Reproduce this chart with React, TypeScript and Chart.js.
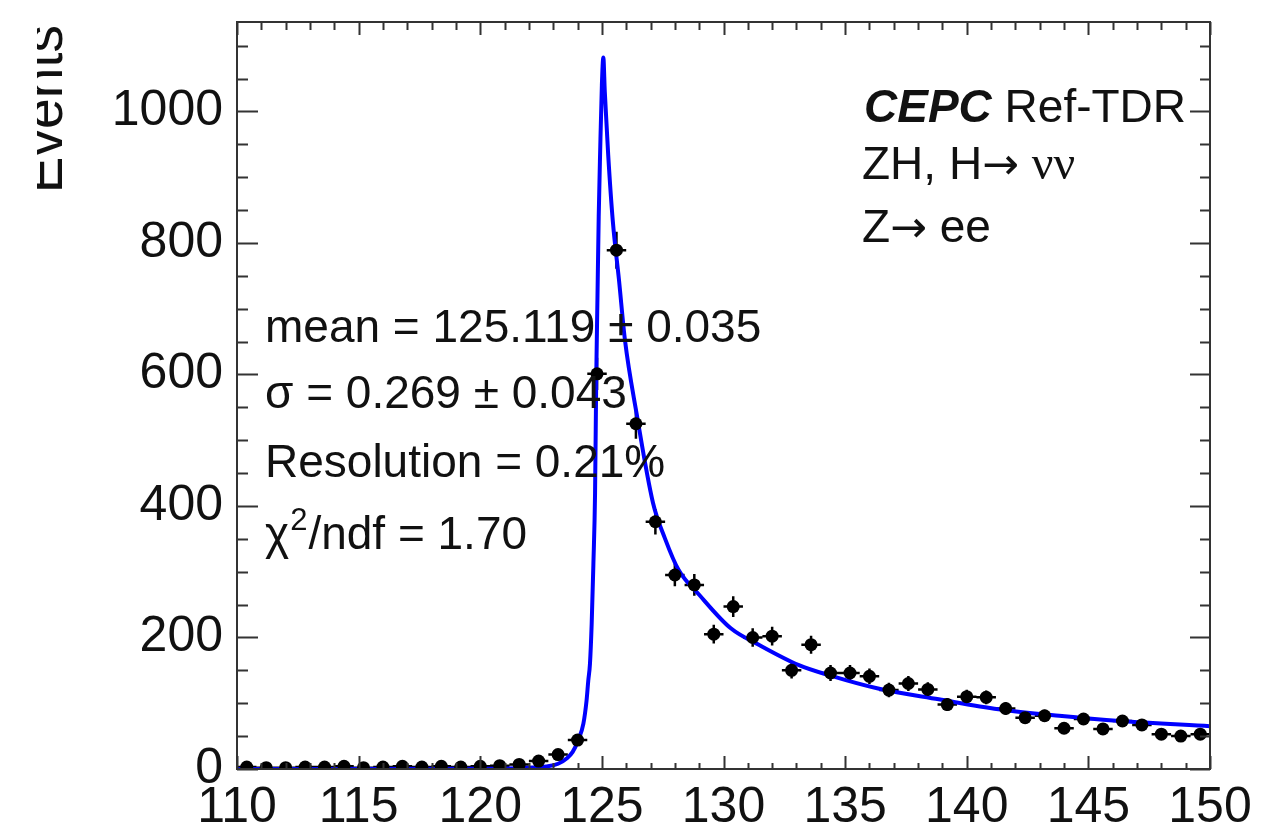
import React, { useEffect, useRef } from "react";
import { Chart, registerables } from "chart.js";

Chart.register(...registerables);

// ---- data ----
const binCenters = [
  110.4, 111.2, 112.0, 112.8, 113.6, 114.4, 115.2, 116.0, 116.8, 117.6,
  118.4, 119.2, 120.0, 120.8, 121.6, 122.4, 123.2, 124.0, 124.8, 125.6,
  126.4, 127.2, 128.0, 128.8, 129.6, 130.4, 131.2, 132.0, 132.8, 133.6,
  134.4, 135.2, 136.0, 136.8, 137.6, 138.4, 139.2, 140.0, 140.8, 141.6,
  142.4, 143.2, 144.0, 144.8, 145.6, 146.4, 147.2, 148.0, 148.8, 149.6,
];
const counts = [
  3, 2, 2, 3, 3, 4, 2, 3, 4, 3,
  4, 3, 4, 5, 7, 12, 22, 44, 601, 789,
  525, 376, 295, 280, 205, 247, 200, 202, 150, 189,
  146, 146, 141, 120, 130, 121, 98, 110, 109, 92,
  78, 81, 62, 76, 61, 73, 67, 53, 50, 53,
];
const countErrors = [
  1.7, 1.4, 1.4, 1.7, 1.7, 2.0, 1.4, 1.7, 2.0, 1.7,
  2.0, 1.7, 2.0, 2.2, 2.6, 3.5, 4.7, 6.6, 24.5, 28.1,
  22.9, 19.4, 17.2, 16.7, 14.3, 15.7, 14.1, 14.2, 12.2, 13.7,
  12.1, 12.1, 11.9, 11.0, 11.4, 11.0, 9.9, 10.5, 10.4, 9.6,
  8.8, 9.0, 7.9, 8.7, 7.8, 8.5, 8.2, 7.3, 7.1, 7.3,
];
const binHalfWidth = 0.4;

const fitX = [
  110, 120, 122, 122.73, 123.2, 123.55, 123.8, 124.03, 124.24, 124.37,
  124.44, 124.51, 124.58, 124.65, 124.72, 124.77, 124.82, 124.87, 124.93, 125.0,
  125.06, 125.12, 125.2, 125.26, 125.45, 125.7, 125.95, 126.43, 127.1, 127.6,
  128.15, 129.0, 130.3, 131.45, 133.1, 134.4, 136.4, 138.85, 141.3, 143.8,
  146.3, 150,
];
const fitY = [
  0, 0.5, 2, 4, 8, 16, 26, 44, 69, 104,
  134, 160, 220, 310, 420, 600, 720, 840, 940, 1040,
  1082, 1030, 975, 934, 833, 745, 652, 540, 405, 350,
  303, 265, 214, 189, 158, 142, 122, 106, 91, 81,
  73, 65,
];

const xTickValues = [110, 115, 120, 125, 130, 135, 140, 145, 150];
const yTickValues = [0, 200, 400, 600, 800, 1000];
const xRange = [110, 150];
const yRange = [0, 1136];
const xMinorStep = 1;
const yMinorStep = 50;

const yTitle = "Events";
const headerBold = "CEPC";
const headerRest = " Ref-TDR";
const statsLines = [
  "mean = 125.119 \u00B1 0.035",
  "\u03C3 = 0.269 \u00B1 0.043",
  "Resolution = 0.21%",
];
const chiLine = { sym: "\u03C7", sup: "2", rest: "/ndf = 1.70" };

const FONT = "'Liberation Sans', Arial, Helvetica, sans-serif";
const ARROW_FONT = "'DejaVu Sans', sans-serif";
const GREEK_FONT = "'Liberation Serif', serif";
const TEXT = "#111";
const AXIS = "#333";

function drawSegments(ctx: any, segs: [string, string][], x0: number, y0: number) {
  let x = x0;
  for (const [font, txt] of segs) {
    ctx.font = font;
    ctx.fillText(txt, x, y0);
    x += ctx.measureText(txt).width;
  }
}

const decorPlugin = {
  id: "decor",
  beforeDatasetsDraw(chart: any) {
    const { ctx, scales } = chart;
    const x = scales.x;
    const y = scales.y;
    ctx.save();
    ctx.strokeStyle = "#000";
    ctx.lineWidth = 2.5;
    ctx.beginPath();
    for (let i = 0; i < binCenters.length; i++) {
      const px = x.getPixelForValue(binCenters[i]);
      const py = y.getPixelForValue(counts[i]);
      ctx.moveTo(x.getPixelForValue(binCenters[i] - binHalfWidth), py);
      ctx.lineTo(x.getPixelForValue(binCenters[i] + binHalfWidth), py);
      ctx.moveTo(px, y.getPixelForValue(counts[i] - countErrors[i]));
      ctx.lineTo(px, y.getPixelForValue(counts[i] + countErrors[i]));
    }
    ctx.stroke();
    ctx.restore();
  },
  afterDraw(chart: any) {
    const { ctx, chartArea, scales } = chart;
    const x = scales.x;
    const y = scales.y;
    const { left, right, top, bottom } = chartArea;
    ctx.save();
    // frame
    ctx.strokeStyle = AXIS;
    ctx.lineWidth = 2;
    ctx.strokeRect(left, top, right - left, bottom - top);
    // ticks
    ctx.beginPath();
    for (let v = xRange[0]; v <= xRange[1] + 1e-9; v += xMinorStep) {
      const px = Math.round(x.getPixelForValue(v)) + 0.5;
      const major = xTickValues.includes(v);
      ctx.moveTo(px, bottom);
      ctx.lineTo(px, bottom - (major ? 13 : 6));
      ctx.moveTo(px, top);
      ctx.lineTo(px, top + (major ? 13 : 8));
    }
    for (let v = yRange[0]; v <= yRange[1]; v += yMinorStep) {
      const py = Math.round(y.getPixelForValue(v)) + 0.5;
      const major = yTickValues.includes(v);
      ctx.moveTo(left, py);
      ctx.lineTo(left + (major ? 21 : 11), py);
      ctx.moveTo(right, py);
      ctx.lineTo(right - (major ? 20 : 10), py);
    }
    ctx.stroke();

    // y title (clipped on the left like the reference)
    ctx.save();
    ctx.beginPath();
    ctx.rect(37, 0, 200, 833);
    ctx.clip();
    ctx.translate(62, 25);
    ctx.rotate(-Math.PI / 2);
    ctx.font = `55px ${FONT}`;
    ctx.fillStyle = TEXT;
    ctx.textAlign = "right";
    ctx.textBaseline = "alphabetic";
    ctx.fillText(yTitle, 0, 0);
    ctx.restore();

    // header
    ctx.fillStyle = TEXT;
    ctx.textAlign = "left";
    ctx.textBaseline = "alphabetic";
    const F = `46px ${FONT}`;
    drawSegments(ctx, [[`italic bold 46px ${FONT}`, headerBold], [F, headerRest]], 864, 122);
    drawSegments(
      ctx,
      [[F, "ZH, H"], [`44px ${ARROW_FONT}`, "\u2192"], [F, " "], [`48px ${GREEK_FONT}`, "\u03BD\u03BD"]],
      862,
      179
    );
    drawSegments(ctx, [[F, "Z"], [`44px ${ARROW_FONT}`, "\u2192"], [F, " ee"]], 862, 242);

    // stats
    const statsY = [342, 408, 477];
    ctx.font = F;
    statsLines.forEach((s, i) => ctx.fillText(s, 265, statsY[i]));
    ctx.fillText(chiLine.sym, 265, 549);
    const wc = ctx.measureText(chiLine.sym).width;
    ctx.font = `31px ${FONT}`;
    ctx.fillText(chiLine.sup, 265 + wc + 1, 530);
    const ws = ctx.measureText(chiLine.sup).width;
    ctx.font = F;
    ctx.fillText(chiLine.rest, 265 + wc + ws + 2, 549);
    ctx.restore();
  },
};

export default function App() {
  const ref = useRef<HTMLCanvasElement | null>(null);
  useEffect(() => {
    if (!ref.current) return;
    const chart = new Chart(ref.current, {
      type: "scatter",
      data: {
        datasets: [
          {
            label: "data",
            data: binCenters.map((c, i) => ({ x: c, y: counts[i] })),
            pointRadius: 6.5,
            pointBackgroundColor: "#000",
            pointBorderWidth: 0,
            pointHoverRadius: 6.5,
            showLine: false,
          },
          {
            label: "fit",
            data: fitX.map((v, i) => ({ x: v, y: fitY[i] })),
            showLine: true,
            borderColor: "#0000ff",
            borderWidth: 4,
            pointRadius: 0,
            cubicInterpolationMode: "monotone",
          } as any,
        ],
      },
      options: {
        animation: false,
        responsive: false,
        devicePixelRatio: 1,
        layout: { padding: { top: 22, right: 55, left: 0, bottom: 0 } },
        plugins: { legend: { display: false }, tooltip: { enabled: false } },
        scales: {
          x: {
            type: "linear",
            min: xRange[0],
            max: xRange[1],
            grid: { display: false, drawTicks: false },
            border: { display: false },
            ticks: {
              color: TEXT,
              font: { size: 50, family: FONT },
              padding: 9,
              maxRotation: 0,
              callback: (v: any) => String(v),
            },
            afterBuildTicks: (s: any) => {
              s.ticks = xTickValues.map((v) => ({ value: v }));
            },
            afterFit: (s: any) => {
              s.height = 64;
              s.paddingLeft = 0;
              s.paddingRight = 0;
            },
          },
          y: {
            type: "linear",
            min: yRange[0],
            max: yRange[1],
            grid: { display: false, drawTicks: false },
            border: { display: false },
            ticks: {
              color: TEXT,
              font: { size: 50, family: FONT },
              padding: 14,
              callback: (v: any) => String(v),
            },
            afterBuildTicks: (s: any) => {
              s.ticks = yTickValues.map((v) => ({ value: v }));
            },
            afterFit: (s: any) => {
              s.width = 237;
              s.paddingTop = 0;
              s.paddingBottom = 0;
            },
          },
        },
      },
      plugins: [decorPlugin],
    });
    return () => chart.destroy();
  }, []);
  return (
    <div style={{ position: "absolute", left: 0, top: 0, width: 1265, height: 833, background: "#fff" }}>
      <canvas ref={ref} width={1265} height={833} style={{ width: 1265, height: 833, display: "block" }} />
    </div>
  );
}
